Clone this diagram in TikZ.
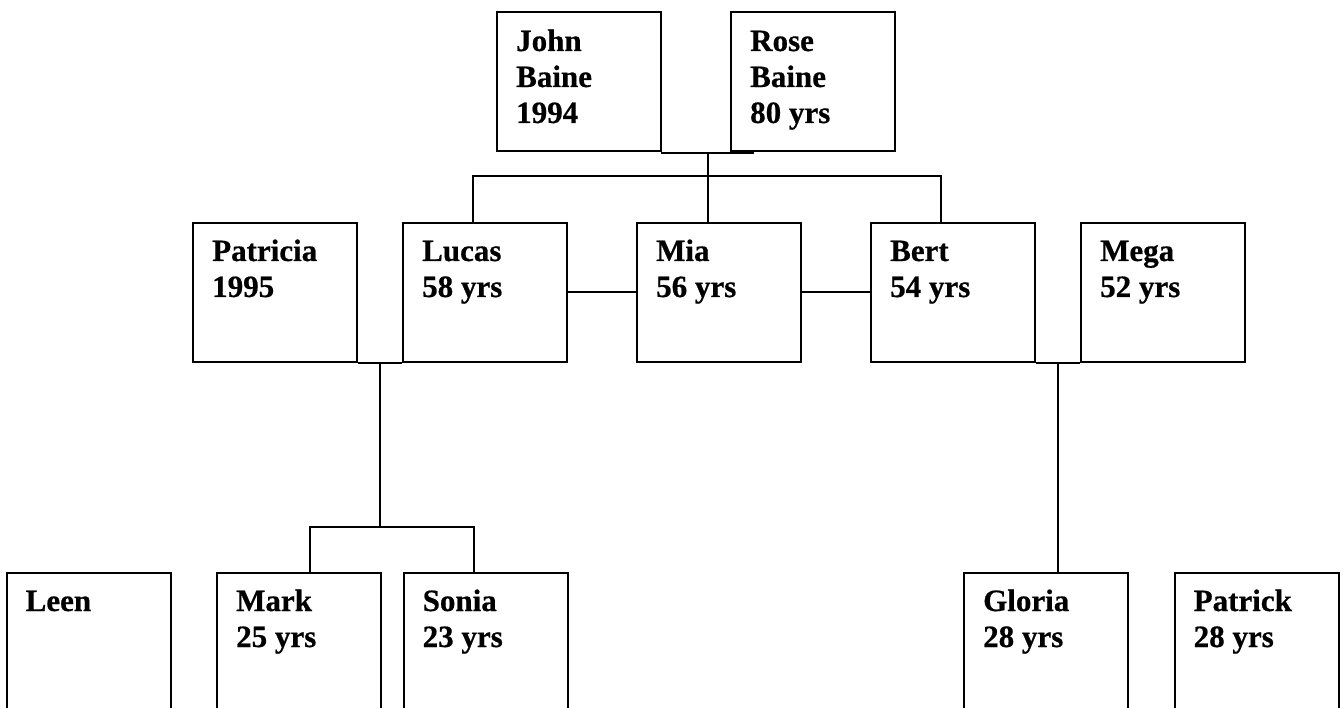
\documentclass[tikz,border=0pt]{standalone}
\usepackage{fontspec}
\setmainfont{Liberation Serif}[BoldFeatures={FakeBold=0.6}]
\begin{document}
\begin{tikzpicture}[x=1pt,y=-1pt,
  personbox/.style={draw=black,line width=2pt,rectangle,inner sep=0pt,
    minimum width=164pt},
  toprow/.style={personbox,minimum height=139pt},
  midrow/.style={personbox,minimum height=139pt},
  botrow/.style={personbox,minimum height=200pt},
  nametext/.style={anchor=base west,inner sep=0pt,
    font=\fontsize{31}{36}\selectfont\bfseries},
  famline/.style={draw=black,line width=2pt}]
\useasboundingbox (0,0) rectangle (1343,708);
\clip (0,0) rectangle (1343,708);
% top row (box tops at y=12)
\node[toprow] (john) at (579,81.5) {};
\node[toprow] (rose) at (813,81.5) {};
% middle row (tops at y=223)
\node[midrow] (patricia) at (275,292.5) {};
\node[midrow] (lucas) at (485,292.5) {};
\node[midrow] (mia) at (719,292.5) {};
\node[midrow] (bert) at (953,292.5) {};
\node[midrow] (mega) at (1163,292.5) {};
% bottom row (tops at y=573)
\node[botrow] (leen) at (88.5,673) {};
\node[botrow] (mark) at (299,673) {};
\node[botrow] (sonia) at (485.5,673) {};
\node[botrow] (gloria) at (1046,673) {};
\node[botrow] (patrick) at (1256.5,673) {};
% texts
\newcommand{\boxlines}[1]{\parbox[t]{150pt}{\raggedright #1}}
\node[nametext] (john-t) at ([shift={(20pt,-40pt)}]john.north west) {\boxlines{John\\Baine\\1994}};
\node[nametext] (rose-t) at ([shift={(20pt,-40pt)}]rose.north west) {\boxlines{Rose\\Baine\\80 yrs}};
\node[nametext] (patricia-t) at ([shift={(20pt,-39pt)}]patricia.north west) {\boxlines{Patricia\\1995}};
\node[nametext] (lucas-t) at ([shift={(20pt,-39pt)}]lucas.north west) {\boxlines{Lucas\\58 yrs}};
\node[nametext] (mia-t) at ([shift={(20pt,-39pt)}]mia.north west) {\boxlines{Mia\\56 yrs}};
\node[nametext] (bert-t) at ([shift={(20pt,-39pt)}]bert.north west) {\boxlines{Bert\\54 yrs}};
\node[nametext] (mega-t) at ([shift={(20pt,-39pt)}]mega.north west) {\boxlines{Mega\\52 yrs}};
\node[nametext] (leen-t) at ([shift={(20pt,-39pt)}]leen.north west) {\boxlines{Leen}};
\node[nametext] (mark-t) at ([shift={(20pt,-39pt)}]mark.north west) {\boxlines{Mark\\25 yrs}};
\node[nametext] (sonia-t) at ([shift={(20pt,-39pt)}]sonia.north west) {\boxlines{Sonia\\23 yrs}};
\node[nametext] (gloria-t) at ([shift={(20pt,-39pt)}]gloria.north west) {\boxlines{Gloria\\28 yrs}};
\node[nametext] (patrick-t) at ([shift={(20pt,-39pt)}]patrick.north west) {\boxlines{Patrick\\28 yrs}};
% helper coordinates
\coordinate (jr) at (708,153);
\coordinate (jrend) at (754,153);
\coordinate (sibl) at (473,176);
\coordinate (sibr) at (941,176);
\coordinate (pl) at (380,363);
\coordinate (kids) at (380,527);
\coordinate (kidl) at (310,527);
\coordinate (kidr) at (474,527);
\coordinate (bm) at (1058,363);
% John & Rose
\draw[famline] (john.south east) -- (john.south east |- jr) -- (jrend);
\draw[famline] (jr) -- (mia.north -| jr);
\draw[famline] (lucas.north -| sibl) -- (sibl) -- (sibr) -- (bert.north -| sibr);
% siblings
\draw[famline] (lucas.east) -- (mia.west);
\draw[famline] (mia.east) -- (bert.west);
% Patricia & Lucas
\draw[famline] (patricia.south east) -- (patricia.south east |- pl) -- (lucas.south west |- pl) -- (lucas.south west);
\draw[famline] (pl) -- (kids);
\draw[famline] (mark.north -| kidl) -- (kidl) -- (kidr) -- (sonia.north -| kidr);
% Bert & Mega
\draw[famline] (bert.south east) -- (bert.south east |- bm) -- (mega.south west |- bm) -- (mega.south west);
\draw[famline] (bm) -- (gloria.north -| bm);
\end{tikzpicture}
\end{document}
